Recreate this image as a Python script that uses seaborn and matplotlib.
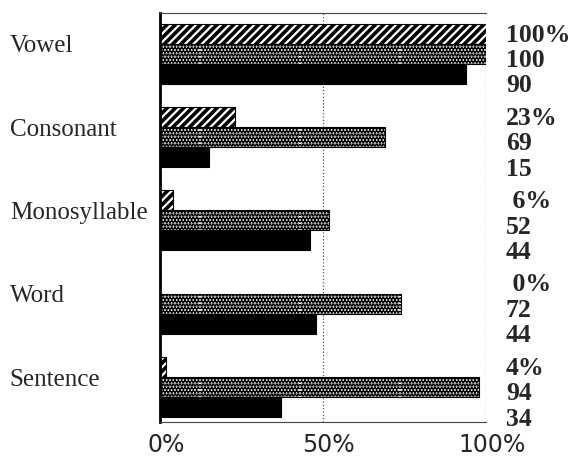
import numpy as np
import pandas as pd
import matplotlib
matplotlib.use("Agg")
import matplotlib.pyplot as plt
import matplotlib.transforms as mtransforms
import seaborn as sns

# categories and the three series (bar lengths, %)
categories = ["Vowel", "Consonant", "Monosyllable", "Word", "Sentence"]
series = ["hatched", "dotted", "solid"]
hatched_vals = [100, 23, 4, 0, 2]
dotted_vals = [100, 69, 52, 74, 98]
solid_vals = [94, 15, 46, 48, 37]

# printed value labels on the right
hatched_labels = ["100%", "23%", " 6%", " 0%", "4%"]
dotted_labels = ["100", "69", "52", "72", "94"]
solid_labels = ["90", "15", "44", "44", "34"]

xticks = [0, 50, 100]
xtick_labels = ["0%", "50%", "100%"]

df = pd.DataFrame({
    "category": categories * 3,
    "series": [s for s in series for _ in categories],
    "value": hatched_vals + dotted_vals + solid_vals,
})

sns.set_style("white")
plt.rcParams["hatch.color"] = "black"

fig = plt.figure(figsize=(5.73, 4.61), dpi=100)
ax = fig.add_axes([0.279, 0.0846, 0.569, 0.8872])

sns.barplot(data=df, x="value", y="category", hue="series", orient="h",
            order=categories, hue_order=series, width=0.72, dodge=True,
            palette={"hatched": "white", "dotted": "white", "solid": "black"},
            edgecolor="black", linewidth=0.8, legend=False, ax=ax)

# patterns per series
n = len(categories)
styles = {0: ("////", 2.6), 1: (".....", 3.2), 2: (None, 1.0)}
for i, bar in enumerate(ax.patches[:3 * n]):
    hatch, lw = styles[i // n]
    if hatch:
        bar.set_hatch(hatch)
        bar.set_hatch_linewidth(lw)

ax.set_xlim(0, 100)
ax.set_ylim(4.42, -0.49)
ax.set_xlabel("")
ax.set_ylabel("")
ax.set_yticks([])

ax.set_xticks(xticks)
ax.set_xticklabels(xtick_labels, family="DejaVu Sans", fontsize=17)
ax.tick_params(axis="x", length=5, width=0.8, color="#666666", pad=3)
shift = mtransforms.ScaledTranslation(6 / 100, 0, fig.dpi_scale_trans)
for lab in ax.get_xticklabels():
    lab.set_transform(lab.get_transform() + shift)

for x in xticks[1:]:
    ax.axvline(x, color="#555555", linestyle=":", linewidth=0.9, zorder=0)

for side in ["top", "bottom", "right"]:
    ax.spines[side].set_linewidth(0.8)
    ax.spines[side].set_color("#444444")
ax.spines["right"].set_visible(False)
ax.spines["left"].set_linewidth(2.0)
ax.spines["left"].set_color("black")

# category names on the left
trans_left = mtransforms.blended_transform_factory(fig.transFigure, ax.transData)
for i, cat in enumerate(categories):
    ax.text(0.017, i - 0.09, cat, transform=trans_left, ha="left", va="center",
            family="Liberation Serif", fontsize=18)

# value labels on the right
trans_right = mtransforms.blended_transform_factory(ax.transAxes, ax.transData)
for i in range(n):
    for j, labels in enumerate([hatched_labels, dotted_labels, solid_labels]):
        ax.text(1.061, i + (j - 1) * 0.305 + 0.08, labels[i], transform=trans_right,
                ha="left", va="center", family="Liberation Serif",
                fontweight="bold", fontsize=18.5)

fig.savefig("out.png", dpi=100)
